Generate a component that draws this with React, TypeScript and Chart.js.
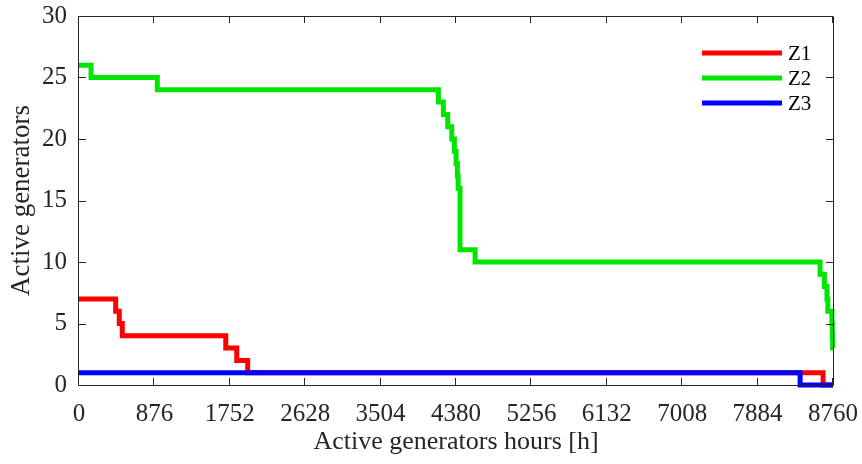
import React, { useEffect, useRef } from "react";
import { Chart, registerables } from "chart.js";

Chart.register(...registerables);

const seriesNames = ["Z1", "Z2", "Z3"];
const seriesColors = ["#ff0000", "#00e600", "#0000ff"];

// step series: each point = (hour where value starts, value)
const z1Hours = [0, 426, 468, 503, 1705, 1833, 1960, 8645, 8760];
const z1Values = [7, 6, 5, 4, 3, 2, 1, 0, 0];

const z2Hours = [0, 140, 910, 4175, 4233, 4284, 4331, 4361, 4381, 4396, 4405, 4427, 4602, 8610, 8660, 8690, 8700, 8747, 8752, 8756, 8760];
const z2Values = [26, 25, 24, 23, 22, 21, 20, 19, 18, 17, 16, 11, 10, 9, 8, 7, 6, 5, 4, 3, 3];

const z3Hours = [0, 8378, 8760];
const z3Values = [1, 0, 0];

const xTickValues = [0, 876, 1752, 2628, 3504, 4380, 5256, 6132, 7008, 7884, 8760];
const yTickValues = [0, 5, 10, 15, 20, 25, 30];

const xTitle = "Active generators hours [h]";
const yTitle = "Active generators";

const FONT = "'Liberation Serif', 'Times New Roman', serif";
const AXIS_COLOR = "#262626";

const toPoints = (xs: number[], ys: number[]) => xs.map((x, i) => ({ x, y: ys[i] }));

const boxPlugin = {
  id: "boxPlugin",
  afterDraw(chart: any) {
    const { ctx, chartArea } = chart;
    const { left, right, top, bottom } = chartArea;
    const xs = chart.scales.x;
    const ys = chart.scales.y;
    ctx.save();
    ctx.strokeStyle = AXIS_COLOR;
    ctx.lineWidth = 1;
    ctx.beginPath();
    ctx.rect(Math.round(left) - 0.5, Math.round(top) + 0.5, Math.round(right - left) + 1, Math.round(bottom - top));
    const tl = 7;
    xTickValues.forEach((v) => {
      const px = Math.round(xs.getPixelForValue(v)) - 0.5;
      ctx.moveTo(px, bottom);
      ctx.lineTo(px, bottom - tl);
      ctx.moveTo(px, top);
      ctx.lineTo(px, top + tl);
    });
    yTickValues.forEach((v) => {
      const py = Math.round(ys.getPixelForValue(v)) + 0.5;
      ctx.moveTo(left, py);
      ctx.lineTo(left + tl, py);
      ctx.moveTo(right, py);
      ctx.lineTo(right - tl, py);
    });
    ctx.stroke();

    // legend
    const lx0 = 702;
    const lx1 = 782;
    const ly0 = 53;
    const dy = 25;
    ctx.font = `21px ${FONT}`;
    ctx.textBaseline = "middle";
    ctx.textAlign = "left";
    seriesNames.forEach((name, i) => {
      const y = ly0 + i * dy;
      ctx.strokeStyle = seriesColors[i];
      ctx.lineWidth = 5;
      ctx.beginPath();
      ctx.moveTo(lx0, y);
      ctx.lineTo(lx1, y);
      ctx.stroke();
      ctx.fillStyle = "#000";
      ctx.fillText(name, 788, y + 1);
    });
    ctx.restore();
  },
};

export default function App() {
  const ref = useRef<HTMLCanvasElement>(null);
  useEffect(() => {
    if (!ref.current) return;
    const mk = (i: number, xs: number[], ys: number[]) => ({
      label: seriesNames[i],
      data: toPoints(xs, ys),
      borderColor: seriesColors[i],
      backgroundColor: seriesColors[i],
      borderWidth: 5,
      stepped: "before" as const,
      pointRadius: 0,
      borderJoinStyle: "miter" as const,
      borderCapStyle: "butt" as const,
      clip: 6,
      fill: false,
      order: 3 - i,
    });
    const chart = new Chart(ref.current, {
      type: "line",
      data: {
        datasets: [mk(0, z1Hours, z1Values), mk(1, z2Hours, z2Values), mk(2, z3Hours, z3Values)],
      },
      options: {
        animation: false,
        responsive: false,
        devicePixelRatio: 1,
        layout: { padding: { top: 16, right: 29, left: 0, bottom: 0 } },
        plugins: { legend: { display: false }, tooltip: { enabled: false } },
        scales: {
          x: {
            type: "linear",
            min: 0,
            max: 8760,
            afterFit: (s: any) => { s.height = 79; s.paddingLeft = 0; s.paddingRight = 0; },
            afterBuildTicks: (s: any) => { s.ticks = xTickValues.map((v) => ({ value: v })); },
            grid: { display: false, drawTicks: false },
            border: { display: false },
            ticks: {
              color: "#262626",
              font: { family: FONT, size: 25 },
              padding: 14,
              maxRotation: 0,
              autoSkip: false,
              callback: (v: any) => String(v),
            },
            title: {
              display: true,
              text: xTitle,
              color: "#262626",
              font: { family: FONT, size: 26 },
              padding: { top: 0, bottom: 6 },
            },
          },
          y: {
            type: "linear",
            min: 0,
            max: 30,
            afterFit: (s: any) => { s.width = 79; s.paddingTop = 0; s.paddingBottom = 0; },
            afterBuildTicks: (s: any) => { s.ticks = yTickValues.map((v) => ({ value: v })); },
            grid: { display: false, drawTicks: false },
            border: { display: false },
            ticks: {
              color: "#262626",
              font: { family: FONT, size: 25 },
              padding: 12,
              autoSkip: false,
              callback: (v: any) => String(v),
            },
            title: {
              display: true,
              text: yTitle,
              color: "#262626",
              font: { family: FONT, size: 27 },
              padding: { top: 6, bottom: 0 },
            },
          },
        },
      },
      plugins: [boxPlugin],
    });
    return () => chart.destroy();
  }, []);
  return (
    <div style={{ position: "absolute", left: 0, top: 0, width: 862, height: 464, background: "#fff" }}>
      <canvas ref={ref} width={862} height={464} style={{ display: "block" }} />
    </div>
  );
}
